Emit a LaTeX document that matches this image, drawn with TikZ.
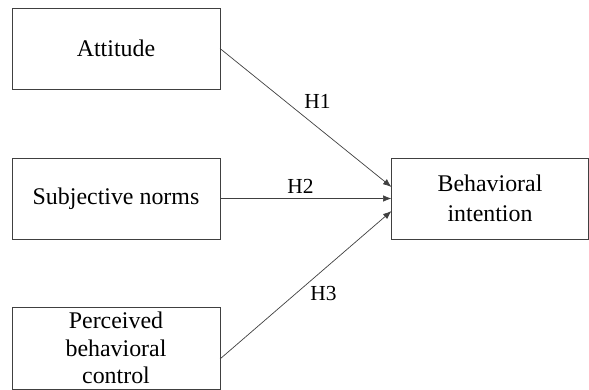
\documentclass[tikz,border=0pt]{standalone}
\usepackage{fontspec}
\setmainfont{Liberation Serif}
\usetikzlibrary{arrows.meta,positioning,calc}

\begin{document}
\begin{tikzpicture}[
    box/.style={draw=black!75, minimum width=4.16cm, minimum height=1.62cm, inner sep=1pt, outer sep=0pt, align=center, font=\fontsize{13.6}{15.8}\selectfont},
    hlab/.style={font=\fontsize{12.2}{14}\selectfont},
    arr/.style={-{Latex[length=1.7mm,width=1.3mm]}, draw=black!75, thin}
]
    \useasboundingbox (0,0) rectangle (11.78,-7.8);

    % Antecedents
    \node[box] (att) at (2.32, -0.97) {Attitude};
    \node[box] (sn) at (2.32, -3.97) {Subjective norms};
    \node[box, minimum height=1.64cm] (pbc) at (2.32, -6.96) {Perceived\\behavioral\\control};

    % Outcome
    \node[box, minimum width=3.94cm, font=\fontsize{13.6}{17}\selectfont] (bi) at (9.8, -3.97) {Behavioral\\intention};

    \coordinate (bi1) at ($(bi.west)+(0,0.23)$);
    \coordinate (bi3) at ($(bi.west)+(0,-0.25)$);
    \coordinate (pbc1) at ($(pbc.east)+(0,-0.22)$);

    \draw[arr] (att.east) -- (bi1);
    \draw[arr] (sn.east) -- (bi.west);
    \draw[arr] (pbc1) -- (bi3);

    % Hypotheses
    \node[hlab] (h1) at (6.35, -2.03) {H1};
    \node[hlab] (h2) at (6.01, -3.72) {H2};
    \node[hlab] (h3) at (6.47, -5.88) {H3};
\end{tikzpicture}
\end{document}
